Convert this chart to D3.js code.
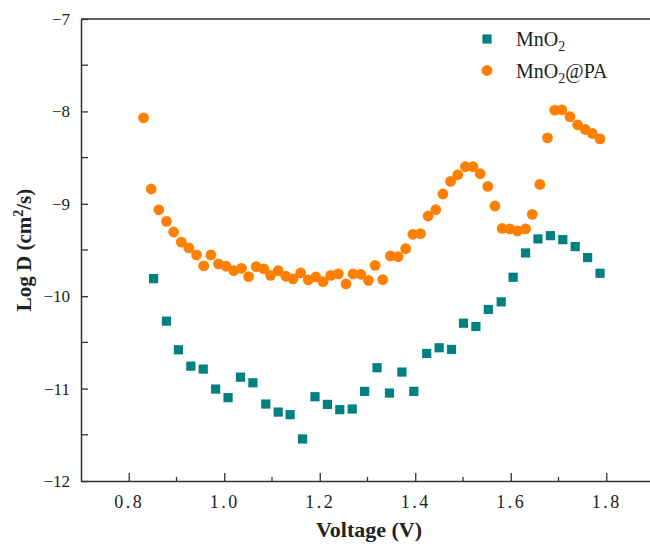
<!DOCTYPE html>
<html>
<head>
<meta charset="utf-8">
<script src="https://cdn.jsdelivr.net/npm/d3@7"></script>
<style>
  body { margin: 0; background: #fff; }
  svg text { font-family: "Liberation Serif", "DejaVu Serif", serif; fill: #222; }
</style>
</head>
<body>
<div id="chart"></div>
<script>
// MnO2 (squares)
const mno2Voltage = [0.852, 0.879, 0.904, 0.930, 0.956, 0.982, 1.008, 1.034, 1.060, 1.087,
  1.113, 1.138, 1.164, 1.190, 1.216, 1.242, 1.268, 1.294, 1.320, 1.346, 1.372, 1.397,
  1.424, 1.450, 1.476, 1.501, 1.527, 1.553, 1.580, 1.605, 1.631, 1.657, 1.683, 1.709,
  1.735, 1.761, 1.787];
const mno2LogD = [-9.81, -10.27, -10.58, -10.757, -10.789, -11.005, -11.098, -10.876, -10.937, -11.167,
  -11.254, -11.282, -11.545, -11.088, -11.171, -11.228, -11.221, -11.03, -10.774, -11.048, -10.821, -11.03,
  -10.62, -10.558, -10.576, -10.292, -10.328, -10.144, -10.061, -9.795, -9.532, -9.38, -9.345, -9.388,
  -9.463, -9.582, -9.752];

// MnO2@PA (circles)
const paVoltage = [0.831, 0.847, 0.863, 0.879, 0.894, 0.910, 0.926, 0.942, 0.957, 0.972,
  0.988, 1.004, 1.020, 1.036, 1.051, 1.067, 1.083, 1.097, 1.113, 1.129, 1.144, 1.160,
  1.176, 1.192, 1.207, 1.223, 1.239, 1.255, 1.270, 1.286, 1.302, 1.316, 1.332, 1.348,
  1.364, 1.380, 1.395, 1.411, 1.427, 1.443, 1.458, 1.474, 1.489, 1.505, 1.521, 1.536,
  1.552, 1.567, 1.582, 1.598, 1.614, 1.631, 1.645, 1.661, 1.677, 1.692, 1.707, 1.724,
  1.740, 1.756, 1.771, 1.787];
const paLogD = [-8.07, -8.84, -9.065, -9.19, -9.305, -9.415, -9.478, -9.553, -9.672, -9.553,
  -9.65, -9.676, -9.723, -9.698, -9.788, -9.68, -9.705, -9.774, -9.723, -9.784, -9.813, -9.748,
  -9.823, -9.791, -9.842, -9.774, -9.759, -9.867, -9.759, -9.763, -9.828, -9.666, -9.82, -9.564,
  -9.572, -9.485, -9.33, -9.323, -9.132, -9.064, -8.894, -8.758, -8.686, -8.599, -8.599, -8.675,
  -8.812, -9.024, -9.267, -9.272, -9.294, -9.272, -9.114, -8.79, -8.286, -7.987, -7.983, -8.056,
  -8.145, -8.196, -8.239, -8.297];

const xTicks = [0.8, 1.0, 1.2, 1.4, 1.6, 1.8];
const xMinorTicks = [0.9, 1.1, 1.3, 1.5, 1.7];
const yTicks = [-7, -8, -9, -10, -11, -12];
const yMinorTicks = [-7.5, -8.5, -9.5, -10.5, -11.5];

const width = 650, height = 547;
const margin = { top: 19, right: -4, bottom: 66, left: 81 };

const svg = d3.select('#chart').append('svg')
  .attr('width', width)
  .attr('height', height);

const x = d3.scaleLinear([0.7, 1.9], [margin.left, width - margin.right]);
const y = d3.scaleLinear([-12, -7], [height - margin.bottom, margin.top]);

const axisColor = '#333';

// frame top line
svg.append('line')
  .attr('x1', margin.left).attr('x2', width - margin.right)
  .attr('y1', margin.top).attr('y2', margin.top)
  .attr('stroke', axisColor).attr('stroke-width', 1.5);

// x axis
const gx = svg.append('g')
  .attr('transform', `translate(0,${y(-12)})`)
  .call(d3.axisBottom(x).tickValues(xTicks).tickSizeInner(-8).tickSizeOuter(0)
    .tickPadding(14).tickFormat(d3.format('.1f')));
gx.append('g').selectAll('line')
  .data(xMinorTicks).join('line')
  .attr('x1', d => x(d)).attr('x2', d => x(d))
  .attr('y1', 0).attr('y2', -4)
  .attr('stroke', axisColor).attr('stroke-width', 1.3);

// y axis
const gy = svg.append('g')
  .attr('transform', `translate(${margin.left},0)`)
  .call(d3.axisLeft(y).tickValues(yTicks).tickSizeInner(-7).tickSizeOuter(0)
    .tickPadding(11).tickFormat(d => '\u2212' + Math.abs(d)));
gy.append('g').selectAll('line')
  .data(yMinorTicks).join('line')
  .attr('y1', d => y(d)).attr('y2', d => y(d))
  .attr('x1', 0).attr('x2', 7)
  .attr('stroke', axisColor).attr('stroke-width', 1.3);

[gx, gy].forEach(g => {
  g.select('.domain').attr('stroke', axisColor).attr('stroke-width', 1.5);
  g.selectAll('.tick line').attr('stroke', axisColor).attr('stroke-width', 1.3);
  g.selectAll('.tick text')
    .attr('font-family', '"Liberation Serif", serif')
    .attr('fill', '#222');
});
gx.selectAll('.tick text').attr('font-size', 18).attr('letter-spacing', 2.5);
gy.selectAll('.tick text').attr('font-size', 17);

// data
svg.append('g').selectAll('rect')
  .data(mno2Voltage.map((v, i) => [v, mno2LogD[i]]))
  .join('rect')
  .attr('x', d => x(d[0]) - 4.6)
  .attr('y', d => y(d[1]) - 4.6)
  .attr('width', 9.2).attr('height', 9.2)
  .attr('fill', '#008080');

svg.append('g').selectAll('circle')
  .data(paVoltage.map((v, i) => [v, paLogD[i]]))
  .join('circle')
  .attr('cx', d => x(d[0]))
  .attr('cy', d => y(d[1]))
  .attr('r', 5.4)
  .attr('fill', '#ff8000');

// legend
const legend = svg.append('g');
legend.append('rect')
  .attr('x', 487 - 4.6).attr('y', 39 - 4.6)
  .attr('width', 9.2).attr('height', 9.2).attr('fill', '#008080');
legend.append('circle')
  .attr('cx', 487).attr('cy', 70.5).attr('r', 5.4).attr('fill', '#ff8000');
const l1 = legend.append('text').attr('x', 516).attr('y', 46).attr('font-size', 20);
l1.append('tspan').text('MnO');
l1.append('tspan').attr('font-size', 14).attr('dy', 5).text('2');
const l2 = legend.append('text').attr('x', 516).attr('y', 77.5).attr('font-size', 20);
l2.append('tspan').text('MnO');
l2.append('tspan').attr('font-size', 14).attr('dy', 5).text('2');
l2.append('tspan').attr('dy', -5).text('@PA');

// axis titles
svg.append('text')
  .attr('x', 369).attr('y', 537)
  .attr('text-anchor', 'middle')
  .attr('font-size', 22).attr('font-weight', 'bold')
  .text('Voltage (V)');

const yl = svg.append('text')
  .attr('transform', `translate(31,${(y(-7) + y(-12)) / 2}) rotate(-90)`)
  .attr('text-anchor', 'middle')
  .attr('font-size', 21).attr('font-weight', 'bold');
yl.append('tspan').text('Log D (cm');
yl.append('tspan').attr('font-size', 14).attr('dy', -8).text('2');
yl.append('tspan').attr('dy', 8).text('/s)');
</script>
</body>
</html>
